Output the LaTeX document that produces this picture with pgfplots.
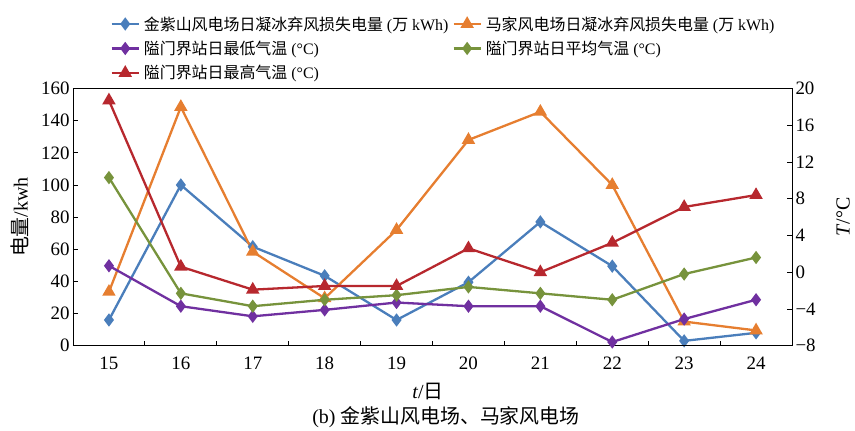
\documentclass[border=0pt]{standalone}
\usepackage{fontspec}
\setmainfont{Liberation Serif}
\newfontfamily\cjk{Noto Sans CJK SC}
\usepackage{pgfplots}
\pgfplotsset{compat=1.18}
\definecolor{cblue}{HTML}{4A7EBB}
\definecolor{corange}{HTML}{E67E30}
\definecolor{cpurple}{HTML}{7030A0}
\definecolor{cgreen}{HTML}{77933C}
\definecolor{cred}{HTML}{B7282E}
\pgfplotsset{
  common/.style={
    scale only axis, width=719bp, height=257.2bp,
    xmin=14.5, xmax=24.5,
    /pgf/number format/assume math mode=true,
    tick label style={font=\fontsize{19}{22}\selectfont},
    xticklabel style={yshift=-8bp},
    major tick length=5bp, minor tick length=5bp,
    tick align=inside,
    axis line style={line width=0.8bp, black},
    every tick/.style={black, line width=0.8bp},
    label style={font=\fontsize{20}{24}\selectfont, inner sep=0pt},
  },
  ser/.style={line width=2.3bp, mark options={solid}},
}
\begin{document}
\begin{tikzpicture}
\begin{axis}[common,
  ymin=0, ymax=160, ytick={0,20,...,160}, ytick pos=left,
  xtick={15,...,24}, minor xtick={15.5,16.5,...,23.5}, xtick pos=bottom,
  major x tick style={draw=none},
  ylabel={{\cjk 电量}/kwh},
  ylabel style={at={(axis description cs:-0.0737,0.5)}, anchor=center},
  xlabel={\textit{t}/{\cjk 日}},
  xlabel style={at={(axis description cs:0.4937,-0.18)}, anchor=center},
]
\addplot[ser, color=cblue, mark=diamond*, mark size=4.8bp] coordinates {
(15,16) (16,100) (17,61.6) (18,43.5) (19,16) (20,39.5) (21,77) (22,49.5) (23,3) (24,8)};
\addplot[ser, color=corange, mark=triangle*, mark size=5.5bp] coordinates {
(15,33.5) (16,148.5) (17,58.5) (18,29.5) (19,72) (20,128) (21,145.5) (22,100) (23,15) (24,9.5)};
\end{axis}
\begin{axis}[common,
  ymin=-8, ymax=20, ytick={-8,-4,...,20},
  yticklabels={−8,−4,0,4,8,12,16,20},
  ytick pos=right, xtick=\empty,
  ylabel={\textit{T}/°C},
  ylabel style={at={(axis description cs:1.0709,0.5)}, anchor=center},
  legend columns=2,
  legend cell align=left,
  legend image code/.code={\draw[mark repeat=2,mark phase=2,#1] plot coordinates {(0bp,0bp) (13.5bp,0bp) (27bp,0bp)};},
  legend style={draw=none, fill=none, at={(axis description cs:0.052,1.2885)}, anchor=north west,
    font=\fontsize{16}{19}\selectfont, inner sep=0pt,
    nodes={inner sep=2bp}, row sep=5.5bp, column sep=2bp},
]
\addlegendimage{ser, color=cblue, mark=diamond*, mark size=4.8bp}
\addlegendentry{{\cjk 金紫山风电场日凝冰弃风损失电量} ({\cjk 万} kWh)}
\addlegendimage{ser, color=corange, mark=triangle*, mark size=5.5bp}
\addlegendentry{{\cjk 马家风电场日凝冰弃风损失电量} ({\cjk 万} kWh)}
\addplot[ser, color=cpurple, mark=diamond*, mark size=4.8bp] coordinates {
(15,0.7) (16,-3.7) (17,-4.8) (18,-4.1) (19,-3.3) (20,-3.7) (21,-3.7) (22,-7.6) (23,-5.1) (24,-3.0)};
\addlegendentry{{\cjk 隘门界站日最低气温} (°C)}
\addplot[ser, color=cgreen, mark=diamond*, mark size=4.8bp] coordinates {
(15,10.3) (16,-2.3) (17,-3.7) (18,-3.0) (19,-2.5) (20,-1.6) (21,-2.3) (22,-3.0) (23,-0.2) (24,1.6)};
\addlegendentry{{\cjk 隘门界站日平均气温} (°C)}
\addplot[ser, color=cred, mark=triangle*, mark size=5.5bp] coordinates {
(15,18.7) (16,0.6) (17,-1.9) (18,-1.5) (19,-1.5) (20,2.6) (21,0.0) (22,3.2) (23,7.1) (24,8.4)};
\addlegendentry{{\cjk 隘门界站日最高气温} (°C)}
\end{axis}
\node[font=\fontsize{20}{24}\selectfont, inner sep=0pt] at (373bp,-71.5bp) {(b) {\cjk 金紫山风电场、马家风电场}};
\pgfresetboundingbox
\path[use as bounding box] (-73bp,-85.3bp) rectangle (782bp,345.7bp);
\end{tikzpicture}
\end{document}
